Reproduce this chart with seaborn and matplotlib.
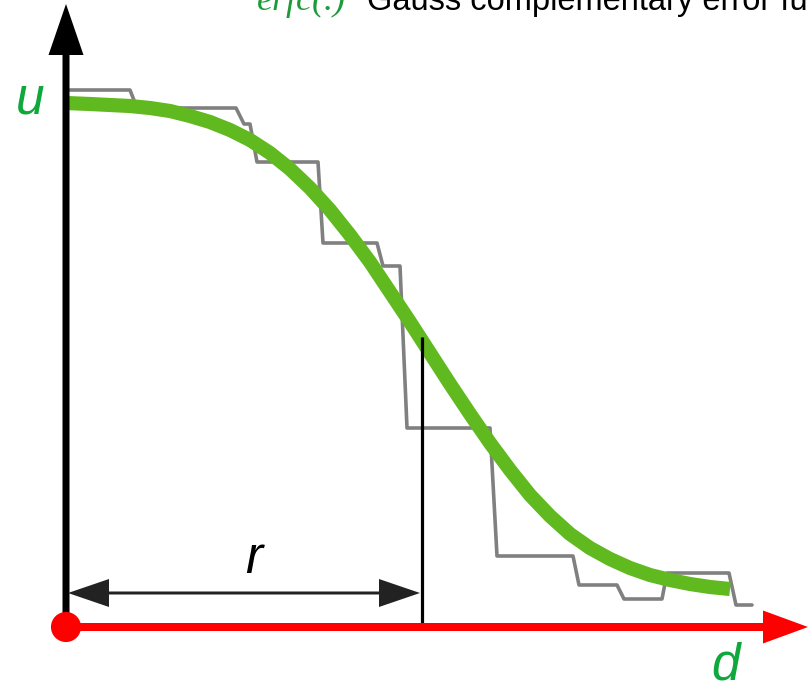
import matplotlib
matplotlib.use("Agg")
import matplotlib.pyplot as plt
import seaborn as sns
import pandas as pd

# ---- data (d = distance from origin, u = value; units) ----
curve_d = [0, 24, 44, 64, 84, 104, 124, 144, 164, 184, 204, 224, 244, 264,
           284, 304, 324, 344, 364, 384, 404, 424, 444, 464, 484, 504, 524,
           544, 564, 584, 604, 624, 644, 664]
curve_u = [524, 523, 522, 521, 519, 516, 511, 505, 497, 487, 474, 458, 439, 417,
           392, 365, 335, 305, 274, 243, 213, 184, 157, 132, 111, 93, 79,
           68, 59, 52, 47, 43, 40, 38]

step_d = [0, 64, 71, 170, 178, 184, 191, 252, 257, 311, 317, 334, 341, 424,
          431, 507, 513, 551, 558, 596, 601, 663, 670, 686]
step_u = [537, 537, 519, 519, 503, 503, 465, 465, 384, 384, 361, 361, 199, 199,
          71, 71, 42, 42, 28, 28, 54, 54, 22, 22]

r_value = 356
u_label, d_label, r_label = "u", "d", "r"
title_fn = "erfc(.)"
title_txt = "Gauss complementary error function"

# ---- figure ----
sns.set_theme(style="white")
plt.rcParams["font.family"] = ["Liberation Sans", "DejaVu Sans"]

fig = plt.figure(figsize=(8.08, 6.83), dpi=100)
ax = fig.add_axes([0, 0, 1, 1])
ax.set_xlim(-66, 742)
ax.set_ylim(-56, 627)
ax.axis("off")

step_df = pd.DataFrame({"d": step_d, "u": step_u})
curve_df = pd.DataFrame({"d": curve_d, "u": curve_u})

sns.lineplot(data=step_df, x="d", y="u", ax=ax, sort=False, estimator=None,
             color="#808080", lw=2.6, solid_joinstyle="round", zorder=2)
sns.lineplot(data=curve_df, x="d", y="u", ax=ax, sort=False, estimator=None,
             color="#5fb91f", lw=10.2, solid_capstyle="butt",
             solid_joinstyle="round", zorder=3)

# vertical u axis
ax.arrow(0, 0, 0, 623, width=7, head_width=35, head_length=51,
         length_includes_head=True, fc="black", ec="none", zorder=4)

# r marker
ax.plot([r_value, r_value], [0, 290], color="black", lw=2.3, zorder=5,
        solid_capstyle="butt")
mid = r_value / 2
ax.arrow(mid, 34, -(mid - 2), 0, width=3, head_width=28, head_length=41,
         length_includes_head=True, fc="#222222", ec="none", zorder=5)
ax.arrow(mid, 34, (r_value - 2) - mid, 0, width=3, head_width=28, head_length=41,
         length_includes_head=True, fc="#222222", ec="none", zorder=5)

# horizontal d axis
ax.arrow(0, 0, 742, 0, width=8, head_width=33, head_length=45,
         length_includes_head=True, fc="#ff0000", ec="none", zorder=6)
sns.scatterplot(x=[0], y=[0], ax=ax, s=470, color="#ff0000", edgecolor="none",
                zorder=7)

# labels
ax.text(-36, 514, u_label, color="#0fa83c", fontsize=37, fontstyle="italic",
        ha="center", va="baseline")
ax.text(660, -53, d_label, color="#0fa83c", fontsize=37, fontstyle="italic",
        ha="center", va="baseline")
ax.text(188, 54, r_label, color="black", fontsize=37, fontstyle="italic",
        ha="center", va="baseline")

ax.text(191, 617, title_fn, color="#1e9a3a", fontsize=26, fontstyle="italic",
        family=["Liberation Serif", "DejaVu Serif"], ha="left", va="baseline")
ax.text(301, 617, title_txt, color="black", fontsize=23.5,
        ha="left", va="baseline")

fig.savefig("out.png", dpi=100)
